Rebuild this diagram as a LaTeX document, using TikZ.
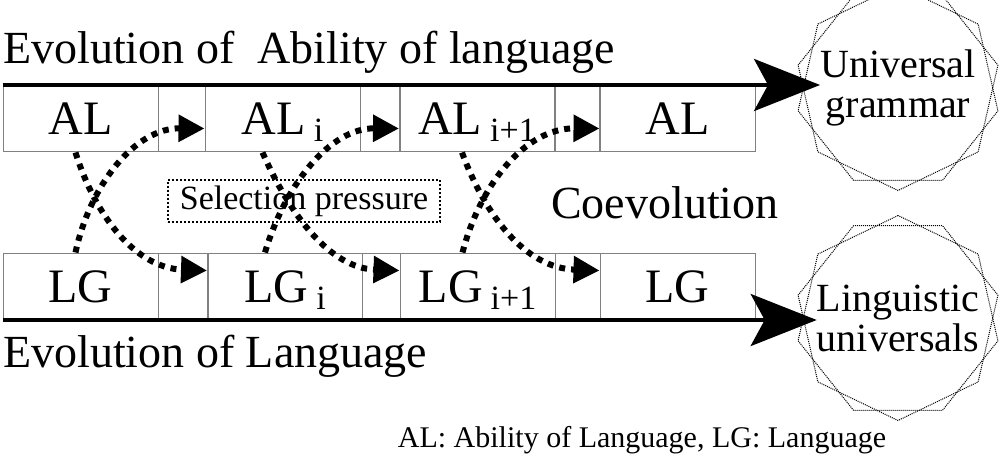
\documentclass[tikz,border=0pt]{standalone}
\usepackage{fontspec}
\setmainfont{Liberation Serif}
\usetikzlibrary{arrows.meta,shapes.geometric}
\begin{document}
\begin{tikzpicture}[x=1pt,y=-1pt,
  box/.style={draw=gray,line width=1pt,minimum height=67pt,inner sep=0pt,font=\fontsize{48}{48}\selectfont},
  gapbox/.style={draw=gray,line width=1pt,minimum height=67pt,inner sep=0pt},
  bigarr/.style={line width=4pt,-{Stealth[length=66pt,width=52pt,inset=14pt]}},
  dotarr/.style={line width=6pt,dash pattern=on 6pt off 6pt,-{Triangle[length=26pt,width=26pt]}},
  starpoly/.style={regular polygon,regular polygon sides=7,draw,densely dotted,line width=1pt,minimum size=205pt,inner sep=0pt},
  lbl/.style={font=\fontsize{46}{46}\selectfont,anchor=base west,inner sep=0pt}]
\useasboundingbox (0,0) rectangle (1000,462);
\newcommand{\subtxt}[1]{\,{\fontsize{34}{34}\selectfont\raisebox{-7pt}[0pt][0pt]{#1}}}
% top row
\node[gapbox,minimum width=47pt] (g1) at (181.5,118.5) {};
\node[gapbox,minimum width=40pt] (g2) at (380,118.5) {};
\node[gapbox,minimum width=44pt] (g3) at (577,118.5) {};
\node[box,minimum width=155pt] (al0) at (80.5,118.5) {AL};
\node[box,minimum width=155pt] (al1) at (282.5,118.5) {AL\subtxt{i}};
\node[box,minimum width=155pt] (al2) at (477,118.5) {AL\subtxt{i+1}};
\node[box,minimum width=155pt] (al3) at (677.5,118.5) {AL};
% bottom row
\node[gapbox,minimum width=50pt] (h1) at (183,286.5) {};
\node[gapbox,minimum width=38pt] (h2) at (381,286.5) {};
\node[gapbox,minimum width=45pt] (h3) at (577.5,286.5) {};
\node[box,minimum width=155pt] (lg0) at (80.5,286.5) {LG};
\node[box,minimum width=155pt] (lg1) at (285,286.5) {LG\subtxt{i}};
\node[box,minimum width=155pt] (lg2) at (477.5,286.5) {LG\subtxt{i+1}};
\node[box,minimum width=155pt] (lg3) at (677.5,286.5) {LG};
% stars
\node[starpoly,rotate=0] (u1) at (898,88) {};
\node[starpoly,rotate=25.7] (u2) at (898,88) {};
\node[font=\fontsize{40}{40}\selectfont,align=center,inner sep=0pt] (ug) at (898,88) {Universal\\grammar};
\node[starpoly,rotate=0] (l1) at (898,318) {};
\node[starpoly,rotate=25.7] (l2) at (898,318) {};
\node[font=\fontsize{40}{40}\selectfont,align=center,inner sep=0pt] (lu) at (898,318) {Linguistic\\universals};
% thick arrows
\coordinate (ts) at (3,85); \coordinate (bs) at (3,320);
\draw[bigarr] (ts) -- (ug.west |- ts);
\draw[bigarr] (bs) -- (lu.west |- bs);
% titles
\node[lbl] (t1) at (3,64) {Evolution of \ Ability of language};
\node[lbl] (t2) at (3,367) {Evolution of Language};
\node[font=\fontsize{30}{30}\selectfont] (leg) at (642,440) {AL: Ability of Language, LG: Language};
\node[font=\fontsize{46}{46}\selectfont] (co) at (665,203) {Coevolution};
\node[draw,line width=2pt,dotted,font=\fontsize{34}{34}\selectfont,minimum width=272pt,minimum height=42pt,inner sep=0pt] (sp) at (304,201) {Selection pressure};
% dotted arrows
\draw[dotarr] ([xshift=-5pt]al0.south) .. controls (95,215) and (135,268) .. ([yshift=16pt]lg1.west);
\draw[dotarr] ([xshift=-5pt]lg0.north) .. controls (90,185) and (135,128) .. ([yshift=-10pt]al1.west);
\draw[dotarr] ([xshift=-20pt]al1.south) .. controls (290,215) and (330,268) .. ([yshift=16pt]lg2.west);
\draw[dotarr] ([xshift=-20pt]lg1.north) .. controls (285,185) and (330,128) .. ([yshift=-10pt]al2.west);
\draw[dotarr] ([xshift=-15pt]al2.south) .. controls (485,215) and (525,268) .. ([yshift=16pt]lg3.west);
\draw[dotarr] ([xshift=-15pt]lg2.north) .. controls (480,185) and (525,128) .. ([yshift=-10pt]al3.west);
\end{tikzpicture}
\end{document}
